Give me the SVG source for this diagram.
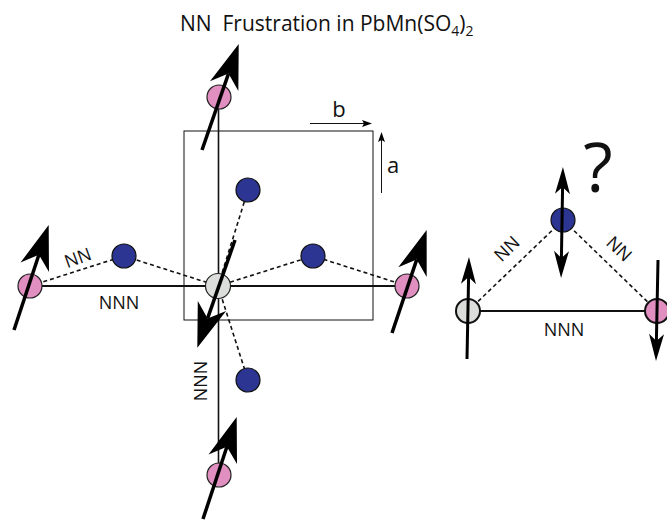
<svg xmlns="http://www.w3.org/2000/svg" width="667" height="520" viewBox="0 0 667 520">
  <style>
    text { font-family: "Open Sans", "DejaVu Sans", sans-serif; fill: #111; }
    .lbl { font-size: 18px; }
    .bond { stroke: #111; stroke-width: 2; fill: none; }
    .nn { stroke: #111; stroke-width: 1.6; stroke-dasharray: 4 3; fill: none; }
    .spin { stroke: #000; stroke-width: 3.5; fill: none; }
    .spin2 { stroke: #000; stroke-width: 3; fill: none; }
    .thin { stroke: #111; stroke-width: 1; fill: none; }
    .pink { fill: #e08fc0; stroke: #222; stroke-width: 1.2; }
    .blue { fill: #2c3592; stroke: #111; stroke-width: 1.2; }
    .grey { fill: #dcdedc; stroke: #222; stroke-width: 1.2; }
    .grey2 { fill: #dcdedc; stroke: #111; stroke-width: 2; }
    .pink2 { fill: #e08fc0; stroke: #111; stroke-width: 2; }
  </style>
  <defs>
    <!-- barbed head, origin at the notch where the shaft stops -->
    <marker id="headBig" markerUnits="userSpaceOnUse" orient="auto" refX="0" refY="0" markerWidth="60" markerHeight="40" viewBox="-15 -15 50 30" overflow="visible">
      <path d="M26,0 L-11,-12.5 L0,0 L-11,12.5 Z" fill="#000"/>
    </marker>
    <marker id="headSmall" markerUnits="userSpaceOnUse" orient="auto-start-reverse" refX="0" refY="0" markerWidth="40" markerHeight="30" viewBox="-10 -10 40 20" overflow="visible">
      <path d="M20,0 L-7,-7.5 L0,0 L-7,7.5 Z" fill="#000"/>
    </marker>
    <marker id="headThin" markerUnits="userSpaceOnUse" orient="auto" refX="0" refY="0" markerWidth="20" markerHeight="20" viewBox="-10 -10 20 20" overflow="visible">
      <path d="M2,0 L-8,-3.5 L-6,0 L-8,3.5 Z" fill="#000"/>
    </marker>
  </defs>

  <!-- title -->
  <text x="180" y="31" style="font-size:21px;white-space:pre">NN  Frustration in PbMn(SO<tspan dy="5" style="font-size:14px">4</tspan><tspan dy="-5">)</tspan><tspan dy="5" style="font-size:14px">2</tspan></text>

  <!-- unit cell and axis arrows -->
  <g id="cell">
    <rect x="184" y="131" width="189" height="189" class="thin"/>
    <line x1="310" y1="123.5" x2="370" y2="123.5" class="thin" marker-end="url(#headThin)"/>
    <line x1="381.5" y1="193" x2="381.5" y2="134" class="thin" marker-end="url(#headThin)"/>
    <text x="339" y="117" text-anchor="middle" style="font-size:22px">b</text>
    <text x="393" y="173" text-anchor="middle" style="font-size:22px">a</text>
  </g>

  <!-- connectors -->
  <g id="connectors">
    <line x1="30" y1="286" x2="407" y2="286" class="bond"/>
    <line x1="218.5" y1="97" x2="218.5" y2="475" class="bond" style="stroke-width:1.6"/>
    <polyline points="30,286 124,256 218,286 313,256 407,286" class="nn"/>
    <line x1="218" y1="286" x2="248" y2="190" class="nn"/>
    <line x1="218" y1="286" x2="248" y2="380" class="nn"/>
    <line x1="468" y1="311" x2="657" y2="311" class="bond"/>
    <polyline points="468,311 563,220 657,311" class="nn"/>
  </g>

  <!-- bond labels -->
  <g id="labels">
    <text x="78" y="264" text-anchor="middle" class="lbl" transform="rotate(-20 78 258)">NN</text>
    <text x="119" y="309" text-anchor="middle" class="lbl">NNN</text>
    <text x="200" y="387" text-anchor="middle" class="lbl" transform="rotate(90 200 381)">NNN</text>
    <text x="564" y="336" text-anchor="middle" class="lbl">NNN</text>
    <text x="507" y="255" text-anchor="middle" class="lbl" transform="rotate(-44 507 249)">NN</text>
    <text x="619" y="255" text-anchor="middle" class="lbl" transform="rotate(44 619 249)">NN</text>
    <text x="598" y="192" text-anchor="middle" style="font-size:68px">?</text>
  </g>

  <!-- lattice sites -->
  <g id="site-left"><circle cx="30" cy="286" r="12" class="pink"/></g>
  <g id="site-right"><circle cx="407" cy="286" r="12" class="pink"/></g>
  <g id="site-top"><circle cx="219" cy="97" r="12" class="pink"/></g>
  <g id="site-bottom"><circle cx="219" cy="475" r="12" class="pink"/></g>
  <g id="site-center"><circle cx="218" cy="286" r="12.5" class="grey"/></g>
  <g id="nn-left"><circle cx="124" cy="256" r="12" class="blue"/></g>
  <g id="nn-right"><circle cx="313" cy="256" r="12" class="blue"/></g>
  <g id="nn-top"><circle cx="248" cy="190" r="12" class="blue"/></g>
  <g id="nn-bottom"><circle cx="248" cy="380" r="12" class="blue"/></g>

  <!-- spins on the square lattice -->
  <g id="spins">
    <line x1="14" y1="330" x2="38.9" y2="254.7" class="spin" marker-end="url(#headBig)"/>
    <line x1="202" y1="150" x2="228.5" y2="73.6" class="spin" marker-end="url(#headBig)"/>
    <line x1="392" y1="333" x2="416.7" y2="259.6" class="spin" marker-end="url(#headBig)"/>
    <line x1="203" y1="519" x2="226.9" y2="446.7" class="spin" marker-end="url(#headBig)"/>
    <line x1="235" y1="240" x2="207.6" y2="318.4" class="spin" marker-end="url(#headBig)"/>
  </g>

  <!-- frustrated triangle -->
  <g id="tri-grey"><circle cx="468" cy="311" r="12" class="grey2"/></g>
  <g id="tri-blue"><circle cx="563" cy="220" r="12" class="blue"/></g>
  <g id="tri-pink"><circle cx="657" cy="311" r="12" class="pink2"/></g>
  <g id="tri-spins">
    <line x1="467" y1="359" x2="468.6" y2="277" class="spin2" marker-end="url(#headSmall)"/>
    <line x1="562.6" y1="187" x2="561.4" y2="258" class="spin2" marker-start="url(#headSmall)" marker-end="url(#headSmall)"/>
    <line x1="658" y1="260" x2="656.4" y2="341" class="spin2" marker-end="url(#headSmall)"/>
  </g>
</svg>
